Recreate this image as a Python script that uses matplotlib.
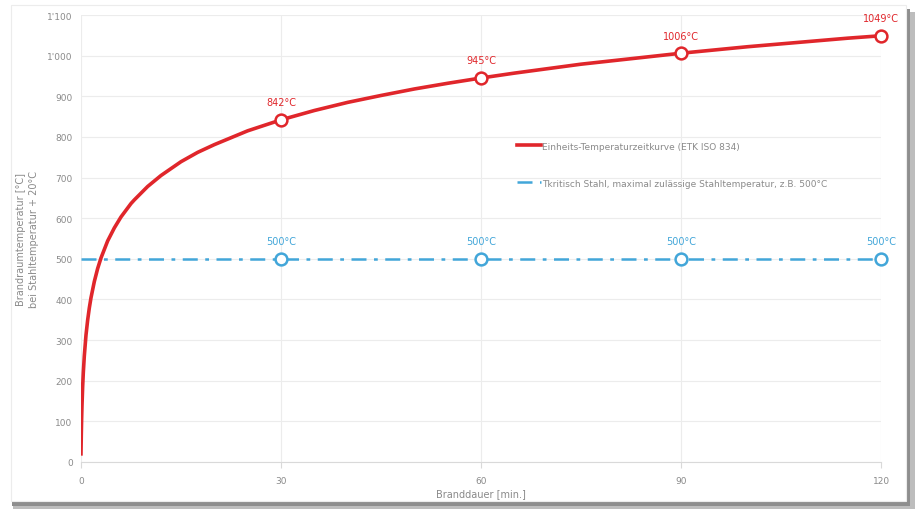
import matplotlib
matplotlib.use("Agg")
import matplotlib.pyplot as plt
from matplotlib.patches import Rectangle
from matplotlib.ticker import FuncFormatter

# Data
time_min = [0, 0.05, 0.1, 0.15, 0.25, 0.35, 0.5, 0.75, 1, 1.25, 1.5, 2, 2.5, 3, 4, 5, 6,
            7.5, 8, 10, 12, 15, 17.5, 20, 25, 30, 35, 40, 45, 50, 55, 60, 65, 70, 75, 80,
            85, 90, 95, 100, 105, 110, 115, 120]
temp_c = [20, 70, 108, 138, 185, 220, 261, 312, 349, 379, 404, 444, 476, 502, 544, 576, 603,
          636, 645, 678, 705, 739, 762, 781, 815, 842, 865, 885, 902, 918, 932, 945, 957,
          968, 979, 988, 997, 1006, 1014, 1022, 1029, 1036, 1043, 1049]
mark_t = [30, 60, 90, 120]
mark_temp = [842, 945, 1006, 1049]
steel_t = [0, 30, 60, 90, 120]
steel_temp = [500, 500, 500, 500, 500]
steel_mark_t = [30, 60, 90, 120]
steel_mark_temp = [500, 500, 500, 500]
x_ticks = [0, 30, 60, 90, 120]
y_ticks = [0, 100, 200, 300, 400, 500, 600, 700, 800, 900, 1000, 1100]

RED = "#e0262b"
BLUE = "#42a6d9"
GRAY = "#8a8a8a"

fig = plt.figure(figsize=(9.15, 5.1), dpi=100)
fig.patch.set_facecolor("white")
# card shadow + card
fig.patches.append(Rectangle((0.014, 0.0), 0.986, 0.975, transform=fig.transFigure,
                             facecolor="#bdbdbd", edgecolor="none", zorder=-4))
fig.patches.append(Rectangle((0.013, 0.006), 0.981, 0.975, transform=fig.transFigure,
                             facecolor="#8e8e8e", edgecolor="none", zorder=-3))
fig.patches.append(Rectangle((0.012, 0.016), 0.978, 0.972, transform=fig.transFigure,
                             facecolor="white", edgecolor="#ececec", lw=0.8, zorder=-2))

ax = fig.add_axes([0.0885, 0.0922, 0.8745, 0.8764])
ax.set_facecolor("none")
ax.set_xlim(0, 120)
ax.set_ylim(0, 1100)

ax.plot(time_min, temp_c, color=RED, lw=2.6, zorder=3, solid_joinstyle="round",
        label="Einheits-Temperaturzeitkurve (ETK ISO 834)")
ax.plot(mark_t, mark_temp, linestyle="none", marker="o", ms=8.5, mfc="white",
        mec=RED, mew=1.8, zorder=4, clip_on=False)
ax.plot(steel_t, steel_temp, color=BLUE, lw=1.8, linestyle=(0, (6, 3, 1.5, 3)), zorder=3,
        label="Tkritisch Stahl, maximal zulässige Stahltemperatur, z.B. 500°C")
ax.plot(steel_mark_t, steel_mark_temp, linestyle="none", marker="o", ms=8.5, mfc="white",
        mec=BLUE, mew=1.8, zorder=4, clip_on=False)

for t, v in zip(mark_t, mark_temp):
    ax.annotate(f"{v}°C", (t, v), xytext=(0, 9), textcoords="offset points",
                ha="center", va="bottom", fontsize=7, color=RED)
for t, v in zip(steel_mark_t, steel_mark_temp):
    ax.annotate(f"{v}°C", (t, v), xytext=(0, 9), textcoords="offset points",
                ha="center", va="bottom", fontsize=7, color=BLUE)

ax.set_xticks(x_ticks)
ax.set_yticks(y_ticks)
ax.yaxis.set_major_formatter(FuncFormatter(lambda v, p: f"{int(v):,}".replace(",", "'")))
ax.grid(True, color="#ececec", lw=0.8)
ax.set_axisbelow(True)
for s in ["top", "right", "left"]:
    ax.spines[s].set_visible(False)
ax.spines["bottom"].set_color("#d9d9d9")
ax.tick_params(axis="both", colors=GRAY, labelsize=6.5, length=0, pad=6)
ax.tick_params(axis="x", length=4, color="#d9d9d9", pad=6)

ax.set_xlabel("Branddauer [min.]", fontsize=7, color=GRAY, labelpad=2)
ax.set_ylabel("Brandraumtemperatur [°C]\nbei Stahltemperatur + 20°C", fontsize=7,
              color=GRAY, labelpad=6, linespacing=1.3)

leg = ax.legend(loc="upper left", bbox_to_anchor=(0.535, 0.735), frameon=False,
                fontsize=6.5, labelcolor=GRAY, handlelength=2.6, handletextpad=0.2,
                labelspacing=3.1)

fig.savefig("out.png", dpi=100)
